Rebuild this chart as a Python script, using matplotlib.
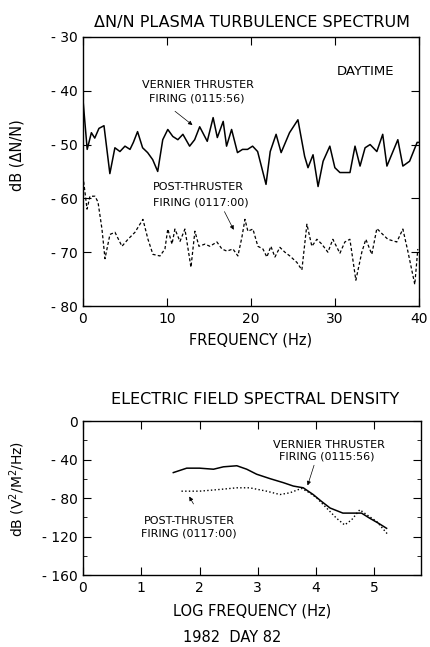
import numpy as np
import matplotlib
matplotlib.use("Agg")
import matplotlib.pyplot as plt

plt.rcParams['font.family'] = ['DejaVu Sans']
plt.rcParams['axes.unicode_minus'] = False

# top panel: dN/N spectrum, frequency in Hz
vern_f = [0.0, 0.5, 1.0, 1.4, 1.9, 2.5, 3.2, 3.8, 4.4, 5.0, 5.6, 6.0, 6.5, 7.1, 7.7, 8.3,
          8.9, 9.5, 10.1, 10.7, 11.3, 11.9, 12.7, 13.3, 13.9, 14.8, 15.5, 16.0, 16.7, 17.1,
          17.7, 18.4, 19.0, 19.6, 20.2, 20.8, 21.8, 22.3, 23.0, 23.6, 24.6, 25.6, 26.4, 26.8,
          27.4, 28.0, 28.6, 29.4, 30.0, 30.6, 31.8, 32.4, 33.0, 33.6, 34.2, 35.0, 35.7, 36.2,
          37.5, 38.1, 38.9, 39.8, 40.0]
vern_db = [-41.7, -50.9, -47.8, -48.8, -47.0, -46.5, -55.4, -50.6, -51.3, -50.3, -50.9, -49.6,
           -47.6, -50.6, -51.5, -52.8, -55.0, -49.1, -47.2, -48.5, -49.1, -48.1, -50.3, -49.1,
           -46.7, -49.4, -45.0, -48.7, -45.7, -50.3, -47.2, -51.5, -50.9, -50.9, -50.3, -51.3,
           -57.4, -51.3, -48.1, -51.5, -47.8, -45.4, -52.2, -54.3, -51.9, -57.8, -53.1, -50.3,
           -54.3, -55.2, -55.2, -50.3, -54.0, -50.6, -50.0, -51.3, -48.1, -54.0, -49.1, -54.0,
           -53.1, -49.6, -49.6]

post_f = [0.0, 0.24, 0.48, 0.83, 1.43, 1.79, 2.26, 2.62, 3.21, 3.81, 4.64, 5.36, 6.19, 7.14,
          7.74, 8.33, 9.17, 9.76, 10.1, 10.6, 10.95, 11.55, 12.14, 12.86, 13.33, 13.81, 14.52,
          15.12, 15.95, 16.55, 17.14, 17.86, 18.45, 18.93, 19.29, 19.64, 20.24, 20.83, 21.43,
          21.9, 22.38, 22.86, 23.45, 24.05, 24.64, 25.48, 26.07, 26.67, 27.26, 27.86, 28.45,
          29.17, 29.76, 30.6, 31.19, 31.79, 32.5, 33.21, 33.69, 34.4, 35.0, 35.71, 36.31,
          37.38, 38.1, 38.69, 39.52, 39.88]
post_db = [-55.9, -58.9, -62.0, -59.6, -59.6, -60.7, -65.7, -71.2, -66.7, -66.3, -68.9, -67.6,
           -66.3, -63.9, -67.6, -70.4, -70.7, -69.4, -65.7, -68.5, -65.7, -68.0, -65.7, -72.8,
           -66.1, -68.9, -68.5, -68.9, -68.1, -69.4, -69.8, -69.4, -70.7, -67.2, -63.9, -66.1,
           -65.7, -68.9, -69.4, -70.9, -68.9, -70.9, -69.1, -70.0, -70.7, -71.9, -73.3, -64.8,
           -68.9, -67.6, -68.5, -70.0, -67.6, -70.2, -68.1, -67.6, -75.2, -70.0, -67.6, -70.4,
           -65.6, -66.7, -67.6, -68.1, -65.7, -69.8, -76.0, -69.4]

# bottom panel: electric field spectral density vs log frequency
ef_vern_lf = [1.55, 1.78, 2.0, 2.24, 2.41, 2.64, 2.81, 2.98, 3.21, 3.44, 3.61, 3.78, 3.95,
              4.09, 4.24, 4.46, 4.64, 4.78, 4.92, 5.07, 5.21]
ef_vern_db = [-53.4, -48.8, -48.8, -49.9, -47.4, -46.3, -49.9, -55.1, -59.7, -63.9, -67.4,
              -69.2, -76.2, -83.2, -90.2, -95.5, -95.5, -95.5, -100.8, -106.0, -111.3]
ef_post_lf = [1.69, 2.0, 2.35, 2.64, 2.86, 3.15, 3.38, 3.55, 3.75, 3.89, 4.01, 4.18, 4.35,
              4.49, 4.61, 4.75, 4.87, 5.04, 5.24]
ef_post_db = [-72.7, -72.7, -70.9, -69.2, -69.2, -72.7, -76.2, -74.4, -69.8, -74.4, -79.7,
              -90.2, -100.8, -107.8, -102.5, -92.0, -97.2, -104.2, -118.3]

top_yticks = [-80, -70, -60, -50, -40, -30]
bot_yticks = [-160, -120, -80, -40, 0]

fig = plt.figure(figsize=(4.3, 6.47), dpi=100)
ax1 = fig.add_axes([0.193, 0.527, 0.781, 0.416])
ax2 = fig.add_axes([0.193, 0.111, 0.786, 0.238])

ax1.plot(vern_f, vern_db, color='black', lw=1.1)
ax1.plot(post_f, post_db, color='black', lw=0.9, dashes=(2.5, 1.8))
ax1.set_xlim(0, 40)
ax1.set_ylim(-80, -30)
ax1.set_xticks([0, 10, 20, 30, 40])
ax1.set_xticklabels(['0', '10', '20', '30', '40'])
ax1.set_yticks(top_yticks)
ax1.set_yticklabels(['- %d' % abs(v) for v in top_yticks])
ax1.tick_params(direction='in', top=True, right=True, length=6, labelsize=10, pad=4)
ax1.set_xlabel('FREQUENCY (Hz)', fontsize=10.5, labelpad=5)
ax1.set_ylabel('dB (ΔN/N)', fontsize=10.5)
ax1.yaxis.set_label_coords(-0.175, 0.56)

ax1.text(33.6, -36.5, 'DAYTIME', fontsize=9.5, ha='center', va='center')
ax1.text(13.7, -39.0, 'VERNIER THRUSTER', fontsize=8, ha='center', va='center')
ax1.text(13.5, -41.5, 'FIRING (0115:56)', fontsize=8, ha='center', va='center')
ax1.annotate('', xy=(13.3, -46.7), xytext=(10.7, -43.5),
             arrowprops=dict(arrowstyle='-|>', lw=0.5, color='black', mutation_scale=6))
ax1.text(8.3, -57.9, 'POST-THRUSTER', fontsize=8, ha='left', va='center')
ax1.text(8.3, -60.8, 'FIRING (0117:00)', fontsize=8, ha='left', va='center')
ax1.annotate('', xy=(18.1, -66.3), xytext=(16.7, -62.0),
             arrowprops=dict(arrowstyle='-|>', lw=0.5, color='black', mutation_scale=6))

ax2.plot(ef_vern_lf, ef_vern_db, color='black', lw=1.1)
ax2.plot(ef_post_lf, ef_post_db, color='black', lw=1.0, linestyle=':')
ax2.set_xlim(0, 5.8)
ax2.set_ylim(-160, 0)
ax2.set_xticks([0, 1, 2, 3, 4, 5])
ax2.set_yticks(bot_yticks)
ax2.set_yticklabels(['- %d' % abs(v) if v else '0' for v in bot_yticks])
ax2.set_yticks([-140, -100, -60, -20], minor=True)
ax2.tick_params(direction='in', top=True, right=True, length=6, labelsize=10, pad=4)
ax2.tick_params(which='minor', direction='in', right=True, length=3)
ax2.set_xlabel('LOG FREQUENCY (Hz)', fontsize=10.5, labelpad=6)
ax2.set_ylabel('dB (V$^2$/M$^2$/Hz)', fontsize=10)
ax2.yaxis.set_label_coords(-0.165, 0.56)

ax2.text(4.22, -24.5, 'VERNIER THRUSTER', fontsize=8, ha='center', va='center')
ax2.text(4.19, -36.5, 'FIRING (0115:56)', fontsize=8, ha='center', va='center')
ax2.annotate('', xy=(3.84, -69.5), xytext=(3.98, -43),
             arrowprops=dict(arrowstyle='-|>', lw=0.5, color='black', mutation_scale=6))
ax2.text(1.82, -104.2, 'POST-THRUSTER', fontsize=8, ha='center', va='center')
ax2.text(1.81, -116.9, 'FIRING (0117:00)', fontsize=8, ha='center', va='center')
ax2.annotate('', xy=(1.80, -75.8), xytext=(1.92, -88.5),
             arrowprops=dict(arrowstyle='-|>', lw=0.5, color='black', mutation_scale=6))

fig.text(252 / 430, 1 - 22 / 647, 'ΔN/N PLASMA TURBULENCE SPECTRUM', fontsize=11.5,
         ha='center', va='center')
fig.text(255 / 430, 1 - 400 / 647, 'ELECTRIC FIELD SPECTRAL DENSITY', fontsize=11.5,
         ha='center', va='center')
fig.text(232 / 430, 1 - 638 / 647, '1982  DAY 82', fontsize=10.5, ha='center', va='center')

for ax in (ax1, ax2):
    for s in ax.spines.values():
        s.set_linewidth(1.0)

fig.savefig('out.png', dpi=100)
